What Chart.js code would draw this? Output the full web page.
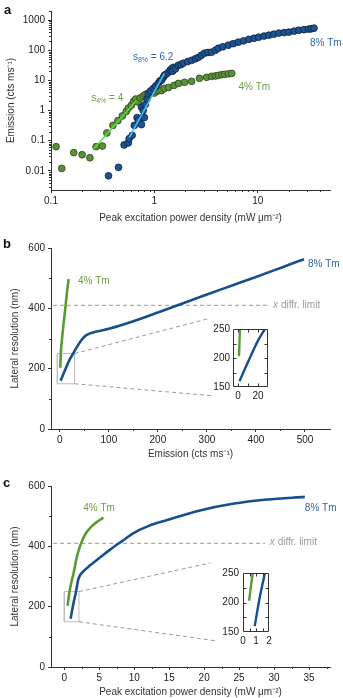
<!DOCTYPE html>
<html>
<head>
<meta charset="utf-8">
<script src="https://cdn.jsdelivr.net/npm/chart.js@4.4.1/dist/chart.umd.min.js"></script>
<style>
  body { margin: 0; background: #fff; }
  #wrap { position: relative; width: 343px; height: 698px; overflow: hidden; }
  canvas { position: absolute; }
  .lab { position: absolute; font: bold 13px "Liberation Sans", Arial, sans-serif; color: #111; }
</style>
</head>
<body>
<div id="wrap">
  <canvas id="ca" width="343" height="224" style="left:0;top:0"></canvas>
  <canvas id="cb" width="343" height="232" style="left:0;top:228px"></canvas>
  <canvas id="cc" width="343" height="232" style="left:0;top:466px"></canvas>
  <canvas id="ib" width="70" height="82" style="left:205px;top:320px"></canvas>
  <canvas id="ic" width="65" height="85" style="left:215px;top:563px"></canvas>
  <div class="lab" style="left:4px;top:2px">a</div>
  <div class="lab" style="left:3px;top:236px">b</div>
  <div class="lab" style="left:3px;top:475px">c</div>
</div>
<script>
var FONT = '"Liberation Sans", Arial, Helvetica, sans-serif';

// panel a: emission vs peak excitation power density (log-log)
var pd8 = [0.36, 0.45, 0.51, 0.56, 0.57, 0.61, 0.64, 0.68, 0.70, 0.75, 0.77, 0.80, 0.75, 0.78, 0.82, 0.85,
    0.87, 0.92, 0.98, 1.03, 1.09, 1.13, 1.17, 1.22, 1.25, 1.3, 1.37, 1.42, 1.48, 1.53, 1.5, 1.6, 1.7, 1.8,
    1.9, 2.1, 2.29, 2.5, 2.67, 2.85, 3.06, 3.3, 3.57, 3.9, 4.17, 4.6, 5.2, 5.8, 6.5, 7.3, 8.2, 9.2, 10.2,
    11.5, 12.8, 14.3, 16, 18, 20, 22.5, 25, 28, 31, 33, 35];
var em8 = [0.0068, 0.013, 0.072, 0.084, 0.116, 0.15, 0.32, 0.58, 0.46, 0.34, 0.6, 0.58, 1.3, 1.0, 1.6, 2.4,
    3.7, 4.5, 5.4, 6.5, 7.9, 9.5, 10, 12.5, 14.7, 16, 18.5, 22, 25, 27, 20, 24, 31.6, 33,
    37, 42, 46, 52, 58, 68, 80, 84, 86, 100, 117, 130, 147, 165, 185, 205, 230, 250, 270,
    295, 316, 340, 370, 385, 400, 430, 460, 480, 500, 515, 540];
var pd4 = [0.112, 0.127, 0.166, 0.2, 0.238, 0.273, 0.314, 0.347, 0.397, 0.444, 0.49, 0.535, 0.56, 0.6,
    0.63, 0.66, 0.7, 0.73, 0.78, 0.82, 0.88, 0.9, 0.95, 1.0, 1.05, 1.1, 1.17, 1.25, 1.37, 1.55, 1.71,
    1.96, 2.29, 2.73, 3.2, 3.57, 3.9, 4.17, 4.5, 4.78, 5.2, 5.6];
var em4 = [0.063, 0.012, 0.04, 0.034, 0.027, 0.063, 0.066, 0.18, 0.32, 0.46, 0.66, 0.93, 1.2, 1.5,
    2.0, 2.4, 1.9, 2.6, 3.0, 3.4, 3.2, 4.0, 4.5, 3.8, 4.3, 4.6, 4.6, 5.4, 5.8, 6.8, 7.9,
    8.6, 9.3, 11.7, 12.6, 13.6, 14, 14.7, 15.5, 15.8, 16.5, 17];
var fit4X = [0.26, 0.67], fit4Y = [0.054, 2.15];
var fit8X = [0.57, 1.25], fit8Y = [0.126, 17];
var ticksAX = [0.1, 1, 10];
var ticksAY = [0.01, 0.1, 1, 10, 100, 1000];

// panel b: lateral resolution vs emission
var emB8 = [1.5, 10, 20, 27, 35, 42, 54, 75, 102, 150, 200, 250, 300, 350, 400, 450, 498];
var resB8 = [160, 193, 230, 250, 272, 290, 311, 323, 333, 357, 386, 416, 446, 475, 504, 534, 563];
var emB4 = [1, 2, 4, 7, 11, 14, 18];
var resB4 = [203, 250, 290, 340, 397, 445, 497];
var ticksBX = [0, 100, 200, 300, 400, 500];

// panel c: lateral resolution vs peak excitation power density
var pdC8 = [0.9, 1.3, 1.68, 1.95, 2.2, 2.76, 3.7, 5.1, 6.6, 8.5, 9.9, 12, 14.7, 19.4, 24.1, 29, 34.4];
var resC8 = [160, 210, 250, 285, 302, 318, 337, 363, 390, 421, 444, 467, 487, 519, 541, 555, 564];
var pdC4 = [0.47, 0.75, 1.05, 1.33, 1.7, 2.1, 2.5, 3.0, 3.9, 4.8, 5.6];
var resC4 = [203, 250, 285, 311, 355, 390, 415, 440, 466, 483, 495];
var ticksCX = [0, 5, 10, 15, 20, 25, 30, 35];

var ticksRes = [0, 200, 400, 600];
var ticksInsetRes = [150, 200, 250];
var ticksInsetB = [0, 20];
var ticksInsetC = [0, 1, 2];
var diffLimit = 410;

var BLUE = '#16508d', GREEN = '#5c9a33';
var BLUE_T = '#2f68a6', GREEN_T = '#6c9c43', GREY = '#9a9a9a';

function xy(xs, ys) {
    return xs.map(function (x, i) { return { x: x, y: ys[i] }; });
}

function logMinor(lo, hi) {
    var out = [];
    for (var e = lo; e <= hi; e++) {
        for (var m = 2; m <= 9; m++) out.push(m * Math.pow(10, e));
    }
    return out;
}

function setTicks(list) {
    return function (scale) {
        scale.ticks = list.map(function (v) { return { value: v }; });
    };
}

function drawParts(ctx, x, y, parts, color) {
    var cx = x;
    ctx.fillStyle = color;
    ctx.textBaseline = 'middle';
    ctx.textAlign = 'left';
    parts.forEach(function (p) {
        ctx.font = (p.style || '') + ' ' + (p.size || 10) + 'px ' + FONT;
        ctx.fillText(p.t, cx, y + (p.dy || 0));
        cx += ctx.measureText(p.t).width;
    });
}

var extras = {
    id: 'extras',
    afterDatasetsDraw: function (chart, args, o) {
        var ctx = chart.ctx, a = chart.chartArea;
        var sx = chart.scales.x, sy = chart.scales.y;
        ctx.save();
        ctx.strokeStyle = '#333';
        ctx.lineWidth = 1;
        ctx.beginPath();
        (o.minorX || []).forEach(function (v) {
            var p = Math.round(sx.getPixelForValue(v)) + 0.5;
            if (p < a.left || p > a.right) return;
            ctx.moveTo(p, a.bottom); ctx.lineTo(p, a.bottom + 2);
        });
        (o.minorY || []).forEach(function (v) {
            var p = Math.round(sy.getPixelForValue(v)) + 0.5;
            if (p < a.top || p > a.bottom) return;
            ctx.moveTo(a.left, p); ctx.lineTo(a.left - 2, p);
        });
        if (o.frame) {
            var l = Math.round(a.left) + 0.5, r = Math.round(a.right) - 0.5;
            var t = Math.round(a.top) + 0.5, b = Math.round(a.bottom) - 0.5;
            ctx.rect(l, t, r - l, b - t);
            (o.inX || []).forEach(function (v) {
                var p = Math.round(sx.getPixelForValue(v)) + 0.5;
                ctx.moveTo(p, b); ctx.lineTo(p, b - 3);
                ctx.moveTo(p, t); ctx.lineTo(p, t + 3);
            });
            (o.inY || []).forEach(function (v) {
                var p = Math.round(sy.getPixelForValue(v)) + 0.5;
                ctx.moveTo(l, p); ctx.lineTo(l + 3, p);
                ctx.moveTo(r, p); ctx.lineTo(r - 3, p);
            });
        }
        ctx.stroke();
        (o.texts || []).forEach(function (tx) {
            drawParts(ctx, sx.getPixelForValue(tx.x), sy.getPixelForValue(tx.y), tx.parts, tx.color);
        });
        ctx.restore();
    }
};

Chart.defaults.font.family = FONT;
Chart.defaults.font.size = 10;
Chart.defaults.color = '#222';

function axis(o) {
    var s = {
        type: o.type || 'linear',
        min: o.min, max: o.max,
        afterBuildTicks: setTicks(o.ticks),
        afterFit: o.fit,
        grid: { display: !o.inset, drawOnChartArea: false, drawTicks: !o.inset, tickLength: 3, tickColor: '#333' },
        border: { display: !o.inset, color: '#333', width: 1 },
        ticks: {
            autoSkip: false, maxRotation: 0, padding: o.pad, color: '#222',
            font: { size: 10 },
            callback: function (v) { return String(v); }
        },
        title: { display: !!o.title, text: o.title, color: '#333', font: { size: 10 }, padding: o.tpad || 0 }
    };
    return s;
}

function line(xs, ys, color, width, extra) {
    var d = {
        data: xy(xs, ys), showLine: true, pointRadius: 0, borderColor: color,
        borderWidth: width, fill: false, cubicInterpolationMode: 'monotone'
    };
    for (var k in extra) d[k] = extra[k];
    return d;
}

function dots(xs, ys, fill, edge) {
    return {
        data: xy(xs, ys), pointRadius: 3.4, pointBackgroundColor: fill,
        pointBorderColor: edge, pointBorderWidth: 0.8, showLine: false
    };
}

function opts(pad, scales, ext) {
    return {
        responsive: false, animation: false, devicePixelRatio: 1,
        layout: { padding: pad },
        scales: scales,
        plugins: { legend: { display: false }, tooltip: { enabled: false }, extras: ext }
    };
}

// ---------- panel a ----------
new Chart(document.getElementById('ca'), {
    type: 'scatter',
    data: {
        datasets: [
            line(fit8X, fit8Y, '#44c3ee', 1.6, { cubicInterpolationMode: 'default' }),
            line(fit4X, fit4Y, '#58dc48', 1.6, { cubicInterpolationMode: 'default' }),
            dots(pd8, em8, '#1f5290', '#0c2340'),
            dots(pd4, em4, '#5c8f3a', '#2b471a')
        ]
    },
    options: opts({ top: 11, right: 13, left: 0, bottom: 0 }, {
        x: axis({ type: 'logarithmic', min: 0.1, max: 50, ticks: ticksAX, pad: 2,
            title: 'Peak excitation power density (mW \u03bcm\u207b\u00b2)',
            fit: function (s) { s.height = 34; } }),
        y: axis({ type: 'logarithmic', min: 0.0023, max: 2000, ticks: ticksAY, pad: 3,
            title: 'Emission (cts ms\u207b\u00b9)', tpad: { top: 5 },
            fit: function (s) { s.width = 51; } })
    }, {
        minorX: logMinor(-1, 1),
        minorY: logMinor(-3, 3),
        texts: [
            { x: 32, y: 170, color: BLUE_T, parts: [{ t: '8% Tm' }] },
            { x: 6.5, y: 5.8, color: GREEN_T, parts: [{ t: '4% Tm' }] },
            { x: 0.62, y: 58, color: BLUE_T, parts: [{ t: 's' }, { t: '8%', size: 7, dy: 3 }, { t: ' = 6.2' }] },
            { x: 0.245, y: 2.5, color: GREEN_T, parts: [{ t: 's' }, { t: '4%', size: 7, dy: 3 }, { t: ' = 4' }] }
        ]
    }),
    plugins: [extras]
});

// ---------- panel b ----------
var dash = { borderDash: [4, 3], cubicInterpolationMode: 'default' };
new Chart(document.getElementById('cb'), {
    type: 'scatter',
    data: {
        datasets: [
            line(emB8, resB8, BLUE, 2.6),
            line(emB4, resB4, GREEN, 2.6),
            line([-14, 424], [diffLimit, diffLimit], GREY, 1, dash),
            line([30, 306], [250, 367], GREY, 1, dash),
            line([30, 312], [150, 110], GREY, 1, dash),
            line([-5, 30, 30, -5, -5], [150, 150, 250, 250, 150], '#bdbdbd', 1, { cubicInterpolationMode: 'default' })
        ]
    },
    options: opts({ top: 20, right: 13, left: 0, bottom: 0 }, {
        x: axis({ min: -18, max: 551, ticks: ticksBX, pad: 2, title: 'Emission (cts ms\u207b\u00b9)',
            fit: function (s) { s.height = 31; } }),
        y: axis({ min: 0, max: 600, ticks: ticksRes, pad: 3, title: 'Lateral resolution (nm)',
            tpad: { top: 9 }, fit: function (s) { s.width = 51; } })
    }, {
        minorX: [50, 150, 250, 350, 450, 550],
        minorY: [100, 300, 500],
        texts: [
            { x: 37, y: 490, color: GREEN_T, parts: [{ t: '4% Tm' }] },
            { x: 506, y: 547, color: BLUE_T, parts: [{ t: '8% Tm' }] },
            { x: 435, y: 411, color: GREY, parts: [{ t: 'x', style: 'italic' }, { t: ' diffr. limit' }] }
        ]
    }),
    plugins: [extras]
});

// ---------- panel c ----------
new Chart(document.getElementById('cc'), {
    type: 'scatter',
    data: {
        datasets: [
            line(pdC8, resC8, BLUE, 2.6),
            line(pdC4, resC4, GREEN, 2.6),
            line([-1.6, 28.7], [diffLimit, diffLimit], GREY, 1, dash),
            line([2.1, 20.9], [250, 345], GREY, 1, dash),
            line([2.1, 21.6], [150, 87], GREY, 1, dash),
            line([0, 2.1, 2.1, 0, 0], [150, 150, 250, 250, 150], '#bdbdbd', 1, { cubicInterpolationMode: 'default' })
        ]
    },
    options: opts({ top: 20, right: 13, left: 0, bottom: 0 }, {
        x: axis({ min: -1.9, max: 38, ticks: ticksCX, pad: 2,
            title: 'Peak excitation power density (mW \u03bcm\u207b\u00b2)',
            fit: function (s) { s.height = 31; } }),
        y: axis({ min: 0, max: 600, ticks: ticksRes, pad: 3, title: 'Lateral resolution (nm)',
            tpad: { top: 9 }, fit: function (s) { s.width = 51; } })
    }, {
        minorX: [2.5, 7.5, 12.5, 17.5, 22.5, 27.5, 32.5, 37.5],
        minorY: [100, 300, 500],
        texts: [
            { x: 2.7, y: 527, color: GREEN_T, parts: [{ t: '4% Tm' }] },
            { x: 34.4, y: 527, color: BLUE_T, parts: [{ t: '8% Tm' }] },
            { x: 29.4, y: 414, color: GREY, parts: [{ t: 'x', style: 'italic' }, { t: ' diffr. limit' }] }
        ]
    }),
    plugins: [extras]
});

// ---------- insets ----------
new Chart(document.getElementById('ib'), {
    type: 'scatter',
    data: { datasets: [line(emB8, resB8, BLUE, 2.4), line(emB4, resB4, GREEN, 2.4)] },
    options: opts({ top: 9, right: 7, left: 0, bottom: 0 }, {
        x: axis({ min: -5, max: 30, ticks: ticksInsetB, pad: 3, inset: true,
            fit: function (s) { s.height = 15; } }),
        y: axis({ min: 150, max: 250, ticks: ticksInsetRes, pad: 3, inset: true,
            fit: function (s) { s.width = 28; } })
    }, { frame: true, inX: [0, 10, 20], inY: [175, 200, 225] }),
    plugins: [extras]
});

new Chart(document.getElementById('ic'), {
    type: 'scatter',
    data: { datasets: [line(pdC8, resC8, BLUE, 2.4), line(pdC4, resC4, GREEN, 2.4)] },
    options: opts({ top: 9, right: 11, left: 0, bottom: 0 }, {
        x: axis({ min: 0, max: 2, ticks: ticksInsetC, pad: 3, inset: true,
            fit: function (s) { s.height = 16; } }),
        y: axis({ min: 150, max: 250, ticks: ticksInsetRes, pad: 4, inset: true,
            fit: function (s) { s.width = 28; } })
    }, { frame: true, inX: [0.5, 1, 1.5], inY: [175, 200, 225] }),
    plugins: [extras]
});
</script>
</body>
</html>
